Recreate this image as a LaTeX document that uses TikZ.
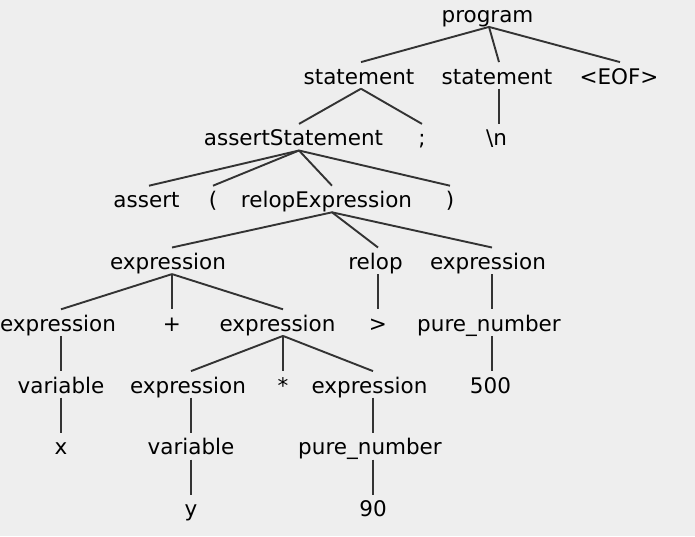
\documentclass[tikz,border=0pt]{standalone}
\usepackage{fontspec}
\setmainfont{DejaVu Sans}
\begin{document}
\begin{tikzpicture}[x=1pt,y=-1pt,
  t/.style={anchor=base,inner sep=0pt,outer sep=0pt,text height=22pt,text depth=4.6pt,
    font=\fontsize{21.5}{24}\selectfont,text=black},
  sh/.style={execute at end node={\kern#1pt}},
  e/.style={draw={rgb,255:red,51;green,51;blue,51},line width=1.9pt}]
\fill[fill={rgb,255:red,238;green,238;blue,238}] (0,0) rectangle (695,536);
\useasboundingbox (0,0) rectangle (695,536);
% level 0
\node[t,sh=3] (prog) at (489,22.3) {program};
% level 1
\node[t,sh=4] (st1) at (361,84.1) {statement};
\node[t,sh=4] (st2) at (499,84.1) {statement};
\node[t,sh=2] (eof) at (620,84.1) {<EOF>};
% level 2
\node[t,sh=11] (as) at (299,145.9) {assertStatement};
\node[t] (semi) at (422,145.9) {;};
\node[t,sh=5] (nl) at (499,145.9) {\textbackslash n};
% level 3
\node[t,sh=5] (assert) at (149,207.7) {assert};
\node[t] (lp) at (213,207.7) {(};
\node[t,sh=11] (rel) at (332,207.7) {relopExpression};
\node[t] (rp) at (450,207.7) {)};
% level 4
\node[t,sh=8] (e1) at (172,269.5) {expression};
\node[t,sh=5] (relop) at (378,269.5) {relop};
\node[t,sh=8] (e2) at (492,269.5) {expression};
% level 5
\node[t,sh=6] (e3) at (61,331.3) {expression};
\node[t] (plus) at (172,331.3) {+};
\node[t,sh=11] (e4) at (283,331.3) {expression};
\node[t] (gt) at (378,331.3) {>};
\node[t,sh=6] (pn1) at (492,331.3) {pure\_number};
% level 6
\node[t] (var1) at (61,393.1) {variable};
\node[t,sh=6] (e5) at (191,393.1) {expression};
\node[t] (star) at (283,393.1) {*};
\node[t,sh=7] (e6) at (373,393.1) {expression};
\node[t,sh=3] (n500) at (492,393.1) {500};
% level 7
\node[t] (x) at (61,454.9) {x};
\node[t] (var2) at (191,454.9) {variable};
\node[t,sh=6] (pn2) at (373,454.9) {pure\_number};
% level 8
\node[t] (y) at (191,516.7) {y};
\node[t] (n90) at (373,516.7) {90};
% edges
\foreach \p/\c in {prog/st1,prog/st2,prog/eof,st1/as,st1/semi,st2/nl,
  as/assert,as/lp,as/rel,as/rp,rel/e1,rel/relop,rel/e2,
  e1/e3,e1/plus,e1/e4,relop/gt,e2/pn1,e3/var1,e4/e5,e4/star,e4/e6,
  pn1/n500,var1/x,e5/var2,e6/pn2,var2/y,pn2/n90}
  \draw[e] (\p.south) -- (\c.north);
\end{tikzpicture}
\end{document}
